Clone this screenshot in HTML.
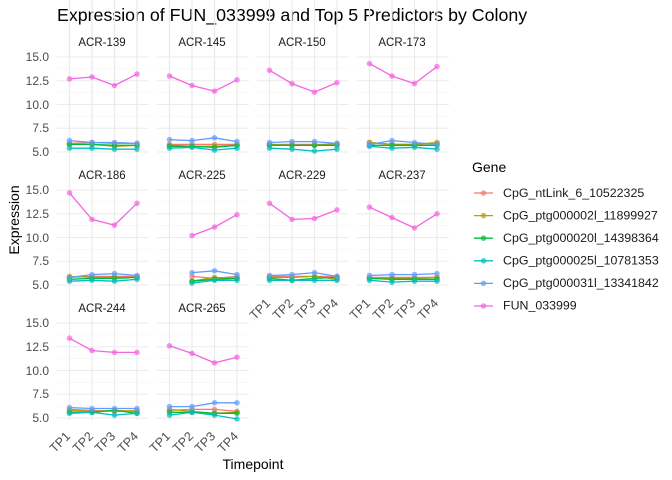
<!DOCTYPE html>
<html><head><meta charset="utf-8"><style>
body{margin:0;background:#fff}
svg{display:block;font-family:"Liberation Sans",sans-serif}
.yt{font-size:12px;fill:#4d4d4d;text-anchor:end}
.st{font-size:11.5px;fill:#1a1a1a;text-anchor:middle}
.xt{font-size:12.5px;fill:#4d4d4d;text-anchor:end}
.lg{font-size:12.4px;fill:#1a1a1a}
</style></head><body>
<svg id="s" width="672" height="480" viewBox="0 0 672 480">
<text x="57" y="21" font-size="17.8" fill="#000">Expression of FUN_033999 and Top 5 Predictors by Colony</text>
<text transform="translate(19,220) rotate(-90)" font-size="14" text-anchor="middle" fill="#000">Expression</text>
<text x="253" y="469" font-size="14" text-anchor="middle" fill="#000">Timepoint</text>
<g id="grid"></g>
<text class="st" x="102" y="46">ACR-139</text><text class="st" x="202" y="46">ACR-145</text><text class="st" x="302" y="46">ACR-150</text><text class="st" x="402" y="46">ACR-173</text>
<text class="st" x="102" y="179">ACR-186</text><text class="st" x="202" y="179">ACR-225</text><text class="st" x="302" y="179">ACR-229</text><text class="st" x="402" y="179">ACR-237</text>
<text class="st" x="102" y="312">ACR-244</text><text class="st" x="202" y="312">ACR-265</text>
<text class="yt" x="49" y="61">15.0</text><text class="yt" x="49" y="85">12.5</text><text class="yt" x="49" y="109">10.0</text><text class="yt" x="49" y="132">7.5</text><text class="yt" x="49" y="156">5.0</text>
<text class="yt" x="49" y="194">15.0</text><text class="yt" x="49" y="218">12.5</text><text class="yt" x="49" y="242">10.0</text><text class="yt" x="49" y="265">7.5</text><text class="yt" x="49" y="289">5.0</text>
<text class="yt" x="49" y="327">15.0</text><text class="yt" x="49" y="351">12.5</text><text class="yt" x="49" y="375">10.0</text><text class="yt" x="49" y="398">7.5</text><text class="yt" x="49" y="422">5.0</text>
<g>
<text class="xt" transform="translate(71,437) rotate(-45)">TP1</text><text class="xt" transform="translate(94,437) rotate(-45)">TP2</text><text class="xt" transform="translate(116,437) rotate(-45)">TP3</text><text class="xt" transform="translate(139,437) rotate(-45)">TP4</text>
<text class="xt" transform="translate(171,437) rotate(-45)">TP1</text><text class="xt" transform="translate(194,437) rotate(-45)">TP2</text><text class="xt" transform="translate(216,437) rotate(-45)">TP3</text><text class="xt" transform="translate(239,437) rotate(-45)">TP4</text>
<text class="xt" transform="translate(271,304) rotate(-45)">TP1</text><text class="xt" transform="translate(294,304) rotate(-45)">TP2</text><text class="xt" transform="translate(316,304) rotate(-45)">TP3</text><text class="xt" transform="translate(339,304) rotate(-45)">TP4</text>
<text class="xt" transform="translate(371,304) rotate(-45)">TP1</text><text class="xt" transform="translate(394,304) rotate(-45)">TP2</text><text class="xt" transform="translate(416,304) rotate(-45)">TP3</text><text class="xt" transform="translate(439,304) rotate(-45)">TP4</text>
</g>
<text x="472" y="172" font-size="14" fill="#000">Gene</text>
<g id="leg"></g>
<text class="lg" x="503" y="197">CpG_ntLink_6_10522325</text>
<text class="lg" x="503" y="219.5">CpG_ptg000002l_11899927</text>
<text class="lg" x="503" y="242">CpG_ptg000020l_14398364</text>
<text class="lg" x="503" y="264.5">CpG_ptg000025l_10781353</text>
<text class="lg" x="503" y="287">CpG_ptg000031l_13341842</text>
<text class="lg" x="503" y="309.5">FUN_033999</text>
<g id="data"></g>
</svg>
<script>
var C=["#F8766D","#B79F00","#00BA38","#00BFC4","#619CFF","#F564E3"];
var N=null;
var D=[
[[5.9,6.0,5.9,5.9],[5.8,5.8,5.6,5.7],[5.8,5.8,5.7,5.7],[5.4,5.4,5.3,5.3],[6.2,6.0,6.0,5.9],[12.7,12.9,12.0,13.2]],
[[5.8,5.8,5.8,5.8],[5.7,5.6,5.6,5.7],[5.6,5.6,5.5,5.7],[5.4,5.5,5.2,5.4],[6.3,6.2,6.5,6.1],[13.0,12.0,11.4,12.6]],
[[5.8,5.8,5.8,5.8],[5.8,5.7,5.7,5.9],[5.7,5.7,5.7,5.7],[5.4,5.3,5.1,5.3],[6.0,6.1,6.1,5.9],[13.6,12.2,11.3,12.3]],
[[6.0,5.8,5.8,5.9],[6.0,5.8,5.8,6.0],[5.7,5.7,5.7,5.7],[5.6,5.4,5.5,5.3],[5.8,6.2,6.0,5.8],[14.3,13.0,12.2,14.0]],
[[5.8,5.9,5.9,5.9],[5.9,5.8,5.8,5.8],[5.6,5.7,5.7,5.8],[5.4,5.5,5.4,5.6],[5.8,6.1,6.2,6.0],[14.7,11.9,11.3,13.6]],
[[N,5.9,5.7,5.9],[N,5.4,5.8,5.7],[N,5.4,5.6,5.7],[N,5.2,5.5,5.5],[N,6.3,6.5,6.1],[N,10.2,11.1,12.4]],
[[5.9,5.9,5.9,5.9],[5.8,5.8,5.9,5.6],[5.7,5.5,5.7,5.8],[5.5,5.5,5.5,5.5],[6.0,6.1,6.3,5.9],[13.6,11.9,12.0,12.9]],
[[5.8,5.8,5.8,5.8],[5.7,5.7,5.7,5.8],[5.7,5.6,5.6,5.6],[5.5,5.3,5.4,5.4],[6.0,6.1,6.1,6.2],[13.2,12.1,11.0,12.5]],
[[5.9,5.8,5.7,5.8],[5.8,5.7,5.8,5.7],[5.6,5.6,5.8,5.5],[5.5,5.6,5.3,5.5],[6.1,6.0,6.0,6.0],[13.4,12.1,11.9,11.9]],
[[5.8,5.9,5.9,5.7],[5.9,5.7,5.5,5.6],[5.6,5.6,5.5,5.5],[5.3,5.6,5.3,4.9],[6.2,6.2,6.6,6.6],[12.6,11.8,10.8,11.4]]
];
var NS="http://www.w3.org/2000/svg";
function el(p,t,a){var e=document.createElementNS(NS,t);for(var k in a)e.setAttribute(k,a[k]);p.appendChild(e);return e;}
var G=document.getElementById("grid"),DD=document.getElementById("data"),L=document.getElementById("leg");
var tx=[12.5,35,57.5,80];
for(var i=0;i<10;i++){
 var c=i%4,r=Math.floor(i/4),x0=57+100*c,y5=152+133*r;
 function Y(v){return y5-(v-5)*9.5;}
 var top=Y(15.25),bot=Y(4.75);
 [6.25,8.75,11.25,13.75].forEach(function(v){el(G,"line",{x1:x0,x2:x0+92,y1:Y(v),y2:Y(v),stroke:"#f2f2f2","stroke-width":0.6});});
 [5,7.5,10,12.5,15].forEach(function(v){el(G,"line",{x1:x0,x2:x0+92,y1:Y(v),y2:Y(v),stroke:"#ebebeb","stroke-width":1.1});});
 tx.forEach(function(t){el(G,"line",{x1:x0+t,x2:x0+t,y1:top,y2:bot,stroke:"#ebebeb","stroke-width":1.1});});
 D[i].forEach(function(s,g){
  var pts=[];s.forEach(function(v,j){if(v!==null)pts.push((x0+tx[j]).toFixed(1)+","+Y(v).toFixed(1));});
  el(DD,"polyline",{points:pts.join(" "),fill:"none",stroke:C[g],"stroke-width":1.3});
 });
 D[i].forEach(function(s,g){
  s.forEach(function(v,j){if(v!==null)el(DD,"circle",{cx:x0+tx[j],cy:Y(v),r:2.8,fill:C[g],"fill-opacity":0.7});});
 });
}
for(var g=0;g<6;g++){var y=193+22.6*g;el(L,"line",{x1:474,x2:493,y1:y,y2:y,stroke:C[g],"stroke-width":1.3});el(L,"circle",{cx:483.5,cy:y,r:2.8,fill:C[g],"fill-opacity":0.7});}
</script>
</body></html>
